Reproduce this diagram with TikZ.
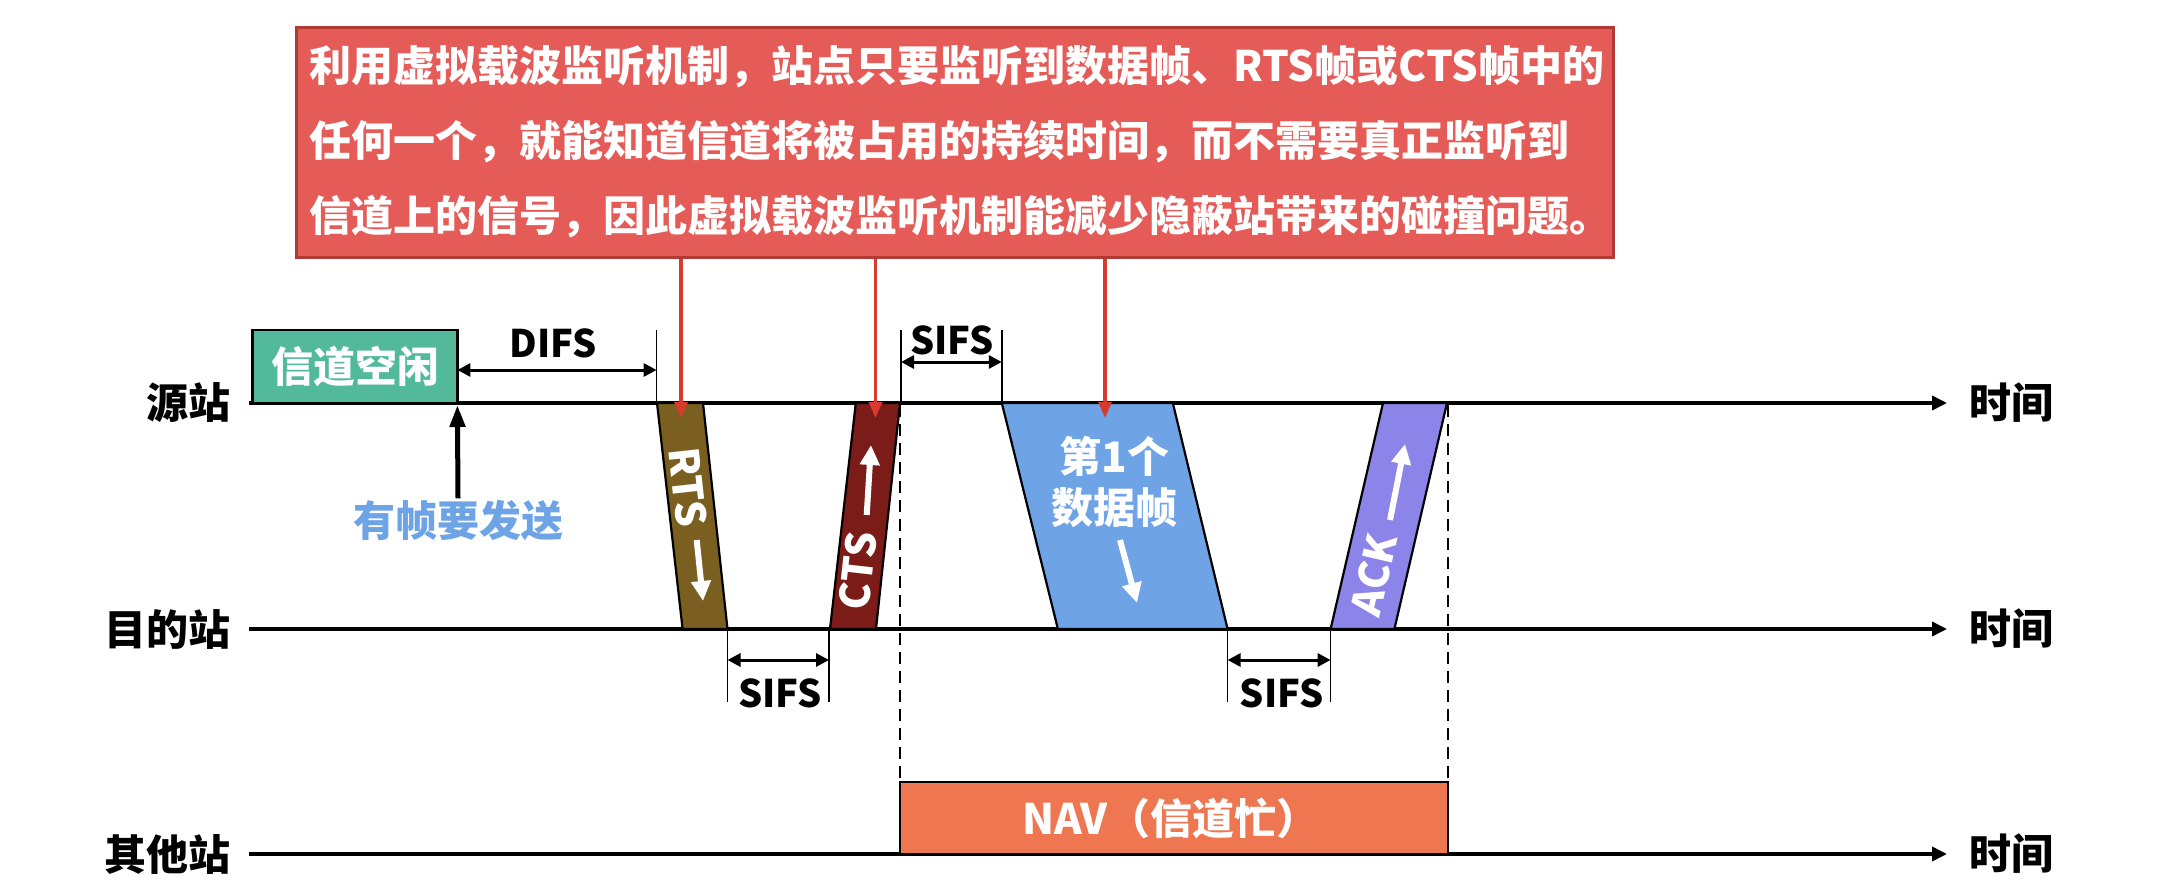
\documentclass[tikz,border=0pt]{standalone}
\usepackage{fontspec}
\setmainfont{Liberation Sans}
\newfontfamily\cjk{Noto Sans CJK SC}[BoldFont={Noto Sans CJK SC Black}]
\usetikzlibrary{arrows.meta}
\definecolor{notefill}{HTML}{E55B57}
\definecolor{noteborder}{HTML}{B23A36}
\definecolor{idle}{HTML}{52B99B}
\definecolor{rtsc}{HTML}{7B5F21}
\definecolor{ctsc}{HTML}{7B1C19}
\definecolor{datac}{HTML}{6EA3E5}
\definecolor{ackc}{HTML}{8C84E8}
\definecolor{navc}{HTML}{EE7752}
\definecolor{callred}{HTML}{D93A2E}
\definecolor{sendblue}{HTML}{6EA3E5}
\tikzset{
  stlabel/.style={font=\cjk\bfseries\fontsize{42}{51}\selectfont, inner sep=0pt},
  notetxt/.style={font=\cjk\bfseries\fontsize{42}{48}\selectfont, text=white, inner sep=0pt, anchor=west},
  timeline/.style={line width=3.5pt, -{Triangle[length=15pt,width=14pt]}},
  tickline/.style={line width=1.6pt},
  dimline/.style={line width=3pt, {Triangle[length=13pt,width=13pt]}-{Triangle[length=13pt,width=13pt]}},
  dimtxt/.style={font=\cjk\bfseries\fontsize{38}{40}\selectfont, inner sep=0pt},
  framebox/.style={draw=black, line width=2.2pt},
  frametxt/.style={font=\cjk\bfseries\fontsize{41}{44}\selectfont, text=white, inner sep=0pt},
  whitearrow/.style={white, line width=6pt, -{Triangle[length=20pt,width=19pt]}},
  callout/.style={callred, line width=3.2pt, -{Triangle[length=16pt,width=13pt]}},
  navdash/.style={line width=1.6pt, dash pattern=on 12pt off 7pt},
}
\begin{document}
\begin{tikzpicture}[x=1pt,y=-1pt]
\useasboundingbox (0,0) rectangle (2178,890);
% note box
\node[draw=noteborder, fill=notefill, line width=3pt, minimum width=1317pt, minimum height=230pt, anchor=north west, inner sep=0pt] (note) at (294.6,25.7) {};
\node[notetxt] (l1) at (309,67) {利用虚拟载波监听机制，站点只要监听到数据帧、RTS帧或CTS帧中的};
\node[notetxt] (l2) at (309,142) {任何一个，就能知道信道将被占用的持续时间，而不需要真正监听到};
\node[notetxt] (l3) at (309,217) {信道上的信号，因此虚拟载波监听机制能减少隐蔽站带来的碰撞问题。};
% stations
\node[stlabel, anchor=east] (src) at (231,403) {源站};
\node[stlabel, anchor=east] (dst) at (231,629) {目的站};
\node[stlabel, anchor=east] (oth) at (231,854) {其他站};
\node[stlabel, anchor=west] (t1) at (1969,403) {时间};
\node[stlabel, anchor=west] (t2) at (1969,629) {时间};
\node[stlabel, anchor=west] (t3) at (1969,854) {时间};
\draw[timeline] (249,403) -- (1947,403);
\draw[timeline] (249,629) -- (1947,629);
\draw[timeline] (249,854) -- (1947,854);
% idle
\draw[fill=idle, line width=2.8pt] (252.5,330) rectangle (457.4,403);
\node[stlabel, text=white] (idle) at (355,367) {信道空闲};
\node[stlabel, text=sendblue] (send) at (458,521) {有帧要发送};
\draw[line width=5pt, -{Triangle[length=22pt,width=15pt]}] (send.north) ++(0,-2) -- (457.4,405);
% DIFS
\draw[tickline] (656.6,330) -- (656.6,403);
\draw[dimline] (457.4,370) -- (656.6,370);
\node[dimtxt] (difs) at (553,343) {DIFS};
% top SIFS
\draw[tickline] (901,330) -- (901,403);
\draw[tickline] (1001.8,330) -- (1001.8,403);
\draw[dimline] (901,362) -- (1001.8,362);
\node[dimtxt] (sifs1) at (952,340) {SIFS};
% bottom SIFS
\draw[tickline] (727.5,629) -- (727.5,702);
\draw[tickline] (829,629) -- (829,702);
\draw[dimline] (727.5,660) -- (829,660);
\node[dimtxt] (sifs2) at (780,693) {SIFS};
\draw[tickline] (1227.6,629) -- (1227.6,702);
\draw[tickline] (1330.6,629) -- (1330.6,702);
\draw[dimline] (1227.6,660) -- (1330.6,660);
\node[dimtxt] (sifs3) at (1281.7,693) {SIFS};
% dashed lines
\draw[navdash] (900,405) -- (900,782);
\draw[navdash] (1448,405) -- (1448,782);
% NAV
\draw[fill=navc, line width=2.8pt] (900,782) rectangle (1448,854);
\node[stlabel, text=white] (nav) at (1170,818) {NAV（信道忙）};
% RTS
\draw[framebox, fill=rtsc] (657,403) -- (703,403) -- (727.5,629) -- (682.6,629) -- cycle;
\node[frametxt, rotate=-83.7] (rts) at (688,487) {RTS};
\draw[whitearrow] (696.7,540) -- (703,601);
% CTS
\draw[framebox, fill=ctsc] (855.8,403) -- (900,403) -- (876,629) -- (830,629) -- cycle;
\node[frametxt, rotate=83.5] (cts) at (858,571) {CTS};
\draw[whitearrow] (866.7,515) -- (871,445);
% data
\draw[framebox, fill=datac] (1001.8,403) -- (1172.8,403) -- (1227.6,629) -- (1057.9,629) -- cycle;
\node[stlabel, text=white, align=center] (d) at (1114.5,482) {第1个\\数据帧};
\draw[whitearrow] (1120,540) -- (1137,603);
% ACK
\draw[framebox, fill=ackc] (1383,403) -- (1447,403) -- (1394.4,629) -- (1330.6,629) -- cycle;
\node[frametxt, rotate=76.9] (ack) at (1374,575) {ACK};
\draw[whitearrow] (1390,520) -- (1405,444);
% callouts
\coordinate (c1) at (681,418);
\coordinate (c2) at (875.5,418);
\coordinate (c3) at (1105,418);
\draw[callout] (c1 |- note.south) -- (c1);
\draw[callout] (c2 |- note.south) -- (c2);
\draw[callout] (c3 |- note.south) -- (c3);
\end{tikzpicture}
\end{document}
